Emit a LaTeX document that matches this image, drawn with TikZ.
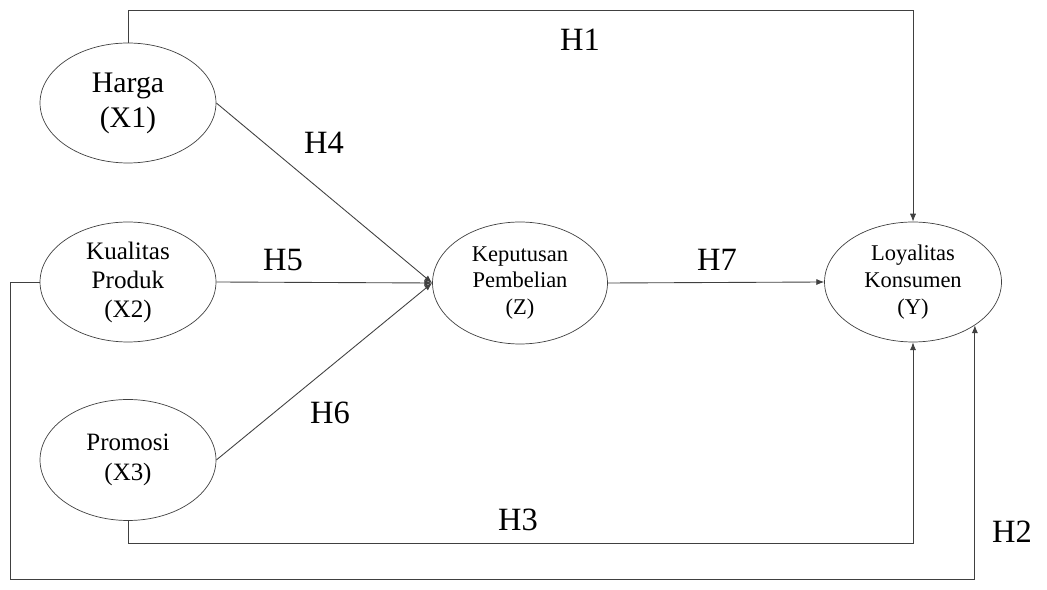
\documentclass[tikz,border=0pt]{standalone}
\usepackage{fontspec}
\setmainfont{Liberation Serif}
\usetikzlibrary{shapes.geometric,arrows.meta}

\tikzset{
  var/.style={draw=black!75, ellipse, inner sep=0pt, align=center,
    minimum width=3.52cm, minimum height=2.4cm},
  arr/.style={draw=black!75, line width=0.5pt, -{Latex[length=4.5pt,width=3.5pt]}},
  hlabel/.style={font=\fontsize{18.5}{20}\selectfont}
}

\begin{document}
\begin{tikzpicture}[x=0.02cm,y=-0.02cm]
        \useasboundingbox (0,0) rectangle (1047,590);

        % Variabel
        \node[var, font=\fontsize{17}{20}\selectfont] (x1) at (128,103) {Harga\\(X1)};
        \node[var, font=\fontsize{14.3}{16.5}\selectfont] (x2) at (128,282) {Kualitas\\Produk\\(X2)};
        \node[var, font=\fontsize{14.2}{17}\selectfont, minimum height=2.42cm] (x3) at (128,460) {Promosi\\(X3)};
        \node[var, font=\fontsize{12.8}{15.3}\selectfont, minimum width=3.5cm, minimum height=2.44cm] (z) at (520,283) {Keputusan\\Pembelian\\(Z)};
        \node[var, font=\fontsize{12.8}{15.3}\selectfont, minimum width=3.54cm] (y) at (913,282) {Loyalitas\\Konsumen\\(Y)};

        % Titik bantu
        \coordinate (h1top) at (0,10);
        \coordinate (h3bot) at (0,543);
        \coordinate (h2bot) at (10,579);
        \coordinate (h2end) at (y.-35);

        % Panah
        \draw[arr] (x1.north) |- (y.north |- h1top) -- (y.north);
        \draw[arr] (x1.east) -- (z.west);
        \draw[arr] (x2.east) -- (z.west);
        \draw[arr] (x3.east) -- (z.west);
        \draw[arr] (z.east) -- (y.west);
        \draw[arr] (x3.south) |- (y.south |- h3bot) -- (y.south);
        \draw[arr] (x2.west) -| (h2bot) -| (h2end);

        % Label hipotesis
        \node[hlabel] (h1) at (580,40) {H1};
        \node[hlabel] (h4) at (324,143) {H4};
        \node[hlabel] (h5) at (283,260) {H5};
        \node[hlabel] (h6) at (330,413) {H6};
        \node[hlabel] (h7) at (717,260) {H7};
        \node[hlabel] (h3) at (518,520) {H3};
        \node[hlabel] (h2) at (1012,532) {H2};
    \end{tikzpicture}
\end{document}
